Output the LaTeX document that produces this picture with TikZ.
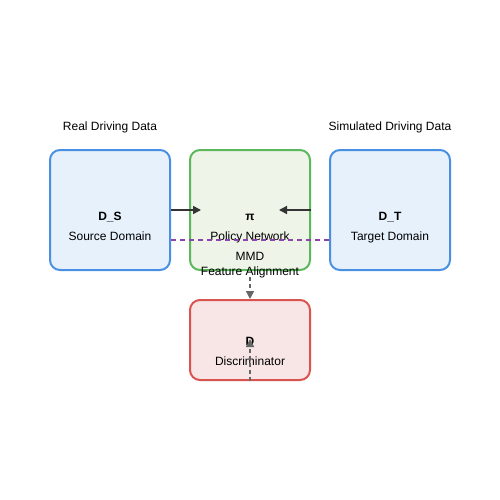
\documentclass[tikz,border=0pt]{standalone}
\usepackage{fontspec}
\setmainfont{Liberation Sans}
\usetikzlibrary{arrows.meta}
\definecolor{bluebd}{HTML}{4A90E2}
\definecolor{bluefill}{HTML}{E6F1FC}
\definecolor{greenbd}{HTML}{5CB85C}
\definecolor{greenfill}{HTML}{EEF4E8}
\definecolor{redbd}{HTML}{D9534F}
\definecolor{redfill}{HTML}{F8E6E6}
\definecolor{purp}{HTML}{8E44AD}
\definecolor{darkg}{HTML}{333333}
\definecolor{dashg}{HTML}{666666}
\tikzset{
  box/.style={rectangle, rounded corners=10pt, line width=2pt, minimum width=120pt, inner sep=0pt},
  lbl/.style={font=\fontsize{12pt}{14pt}\selectfont, text=black, inner sep=0pt, anchor=base},
  title/.style={font=\fontsize{12pt}{14pt}\selectfont\bfseries, text=black, inner sep=0pt, anchor=base},
  arr/.style={draw=darkg, line width=1.5pt, -{Triangle[length=8pt,width=8pt]}},
  darr/.style={draw=dashg, line width=1.5pt, dash pattern=on 4pt off 3pt, -{Triangle[length=8pt,width=8pt]}},
}
\begin{document}
\begin{tikzpicture}[x=1pt,y=-1pt]
\useasboundingbox (0,0) rectangle (500,500);
\node[box, draw=bluebd, fill=bluefill, minimum height=120pt] (src) at (110,210) {};
\node[box, draw=greenbd, fill=greenfill, minimum height=120pt] (pol) at (250,210) {};
\node[box, draw=bluebd, fill=bluefill, minimum height=120pt] (tgt) at (390,210) {};
\node[box, draw=redbd, fill=redfill, minimum height=80pt] (dis) at (250,340) {};

\node[lbl] (realt) at (110,130) {Real Driving Data};
\node[lbl] (simt) at (390,130) {Simulated Driving Data};

\node[title] (dsl) at (110,220) {D\_S};
\node[lbl] (srcl) at (110,240) {Source Domain};
\node[title] (pil) at (250,220) {π};
\node[lbl] (poll) at (250,240) {Policy Network};
\node[title] (dtl) at (390,220) {D\_T};
\node[lbl] (tgtl) at (390,240) {Target Domain};
\node[title] (dl) at (250,345) {D};
\node[lbl] (disl) at (250,365) {Discriminator};

\node[lbl] (mmd1) at (250,260) {MMD};
\node[lbl] (mmd2) at (250,275) {Feature Alignment};

\coordinate (a1e) at (201,210);
\coordinate (a2e) at (279,210);
\draw[arr] (src.east |- 0,210) -- (a1e);
\draw[arr] (pol.east |- 0,210) -- (a2e);

\draw[draw=purp, line width=1.5pt, dash pattern=on 5pt off 4pt] (src.east |- 0,240) -- (tgt.west |- 0,240);

\coordinate (mmdstart) at (250,277);
\draw[darr] (mmdstart) -- (dis.north);
\coordinate (dtip) at (250,339);
\draw[darr] (dis.south) -- (dtip);
\end{tikzpicture}
\end{document}
